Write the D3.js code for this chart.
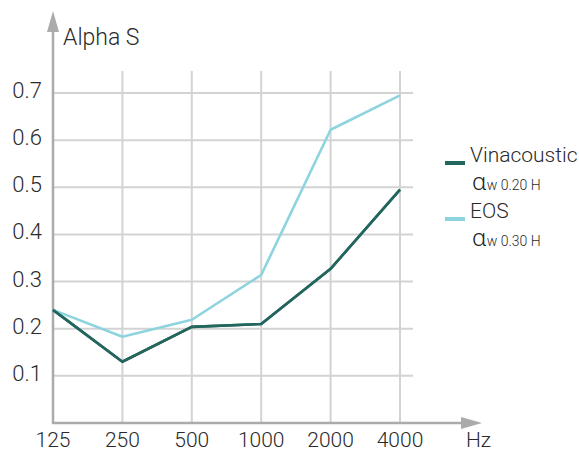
<!DOCTYPE html>
<html><head><meta charset="utf-8">
<script src="https://cdn.jsdelivr.net/npm/d3@7"></script>
<style>body{margin:0;background:#fff}svg{display:block}text{font-family:Roboto,"Liberation Sans",Arial,sans-serif;font-weight:300;fill:#2a2a2a}</style>
</head><body>
<svg id="c" width="579" height="453"></svg>
<script>
const categories = ["125","250","500","1000","2000","4000"];
const vinacoustic = [0.24,0.13,0.204,0.21,0.327,0.495];
const eos = [0.24,0.183,0.219,0.314,0.622,0.695];
const yTicks = [0.1,0.2,0.3,0.4,0.5,0.6,0.7];
const seriesNames = ["Vinacoustic","EOS"];
const seriesSub = ["w 0.20 H","w 0.30 H"];
const colors = ["#23665e","#8dd4df"];

const svg = d3.select("#c");
const x = d3.scalePoint().domain(categories).range([53,400]);
const y = d3.scaleLinear().domain([0,0.7]).range([423,93]);
const grid = "#d3d3d3", axisC = "#ababab";

svg.append("g").selectAll("line").data(categories.slice(1)).join("line")
  .attr("x1",d=>x(d)).attr("x2",d=>x(d)).attr("y1",71).attr("y2",423)
  .attr("stroke",grid).attr("stroke-width",2);
svg.append("g").selectAll("line").data(yTicks).join("line")
  .attr("x1",53).attr("x2",413).attr("y1",d=>y(d)).attr("y2",d=>y(d))
  .attr("stroke",grid).attr("stroke-width",2);

svg.append("line").attr("x1",53).attr("x2",53).attr("y1",424).attr("y2",30).attr("stroke",axisC).attr("stroke-width",2.5);
svg.append("path").attr("d","M53,11 L47,32 L59,32 Z").attr("fill",axisC);
svg.append("line").attr("x1",52).attr("x2",464).attr("y1",423).attr("y2",423).attr("stroke",axisC).attr("stroke-width",2.5);
svg.append("path").attr("d","M482,423 L461,417 L461,429 Z").attr("fill",axisC);

svg.append("g").selectAll("text").data(yTicks).join("text")
  .attr("x",42).attr("y",d=>y(d)+5).attr("text-anchor","end").attr("font-size",22).text(d=>d.toFixed(1));
svg.append("g").selectAll("text").data(categories).join("text")
  .attr("x",d=>x(d)).attr("y",447).attr("text-anchor","middle").attr("font-size",21).text(d=>d);
svg.append("text").attr("x",466).attr("y",447).attr("font-size",21).text("Hz");
svg.append("text").attr("x",63).attr("y",45).attr("font-size",23).text("Alpha S");

const line = d3.line().x((d,i)=>x(categories[i])).y(d=>y(d));
[vinacoustic,eos].forEach((s,i)=>{
  svg.append("path").attr("d",line(s)).attr("fill","none").attr("stroke",colors[i]).attr("stroke-width",2.6).attr("stroke-linejoin","round");
});
svg.append("path").attr("d",line(vinacoustic)).attr("fill","none").attr("stroke",colors[0]).attr("stroke-width",2.6);

seriesNames.forEach((n,i)=>{
  const by = 163 + i*56;
  svg.append("rect").attr("x",445).attr("y",by-2).attr("width",20).attr("height",4).attr("fill",colors[i]);
  svg.append("text").attr("x",470).attr("y",by-1).attr("font-size",21).text(n);
  const t = svg.append("text").attr("x",472).attr("y",by+27);
  t.append("tspan").attr("font-size",24).attr("font-family","Noto Sans, sans-serif").attr("font-weight",300).style("fill","#222").text("α");
  t.append("tspan").attr("font-size",14).attr("dx",0).text(seriesSub[i]);
});
</script>
</body></html>
